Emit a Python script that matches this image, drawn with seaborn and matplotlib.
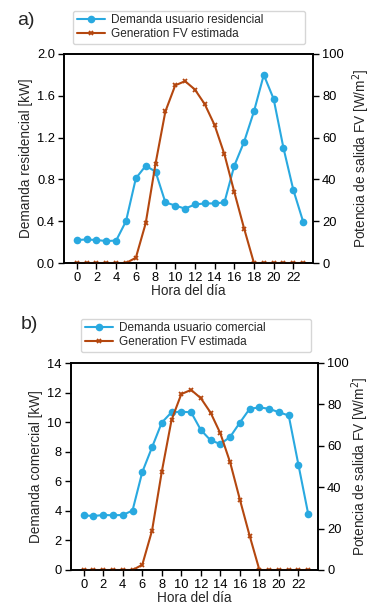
import numpy as np
import pandas as pd
import matplotlib
matplotlib.use("Agg")
import matplotlib.pyplot as plt
import seaborn as sns

hours = list(range(24))
res_demand = [0.22, 0.225, 0.22, 0.21, 0.215, 0.40, 0.81, 0.93, 0.875, 0.58, 0.55, 0.52,
              0.56, 0.57, 0.57, 0.58, 0.93, 1.16, 1.45, 1.80, 1.57, 1.10, 0.70, 0.395]
com_demand = [3.70, 3.65, 3.72, 3.70, 3.72, 4.02, 6.62, 8.30, 9.97, 10.67, 10.70, 10.67,
              9.47, 8.77, 8.52, 9.00, 9.97, 10.90, 11.00, 10.90, 10.67, 10.45, 7.10, 3.78]
pv_gen = [0, 0, 0, 0, 0, 0, 2.5, 19, 47.5, 72.5, 85, 87,
          83, 76, 66, 52, 34, 16.5, 0, 0, 0, 0, 0, 0]
xticks = list(range(0, 24, 2))

blue = "#29a9e0"
brown = "#b4470f"

sns.set_theme(style="ticks")
plt.rcParams["font.family"] = ["Liberation Sans", "DejaVu Sans"]

W, H = 371, 606
fig = plt.figure(figsize=(W / 100, H / 100), dpi=100)

panels = [
    dict(demand=res_demand, label="Demanda usuario residencial", ylabel="Demanda residencial [kW]",
         ylim=(0, 2.0), yticks=[0, 0.4, 0.8, 1.2, 1.6, 2.0], fmt="%.1f",
         rect=[64 / W, 1 - 263 / H, 249 / W, 209 / H], tag="a)", tagpos=(17 / W, 1 - 12 / H),
         leg=(73 / W, 1 - 44 / H, 232 / W, 32 / H), rpad=5),
    dict(demand=com_demand, label="Demanda usuario comercial", ylabel="Demanda comercial [kW]",
         ylim=(0, 14), yticks=list(range(0, 15, 2)), fmt="%d",
         rect=[71 / W, 1 - 570 / H, 247 / W, 207 / H], tag="b)", tagpos=(21 / W, 1 - 316 / H),
         leg=(81 / W, 1 - 352 / H, 230 / W, 34 / H), rpad=0.5),
]

for p in panels:
    ax = fig.add_axes(p["rect"])
    df = pd.DataFrame({"hora": hours, "demanda": p["demand"], "pv": pv_gen})
    sns.lineplot(data=df, x="hora", y="demanda", ax=ax, color=blue, marker="o",
                 markersize=5.5, markeredgewidth=0, linewidth=1.5, label=p["label"], legend=False)
    ax2 = ax.twinx()
    sns.lineplot(data=df, x="hora", y="pv", ax=ax2, color=brown, marker="x",
                 markersize=3.5, markeredgewidth=1.3, markeredgecolor=brown, linestyle="-",
                 linewidth=1.5, label="Generation FV estimada", legend=False)
    ax.set_xlim(-1.3, 24)
    ax.set_ylim(*p["ylim"])
    ax.set_yticks(p["yticks"])
    ax.yaxis.set_major_formatter(matplotlib.ticker.FormatStrFormatter(p["fmt"]))
    ax.set_xticks(xticks)
    ax2.set_ylim(0, 100)
    ax2.set_yticks([0, 20, 40, 60, 80, 100])
    ax.set_xlabel("Hora del día", fontsize=9.8, labelpad=0)
    ax.set_ylabel(p["ylabel"], fontsize=9.8, labelpad=3)
    ax2.set_ylabel("Potencia de salida FV [W/m$^2$]", fontsize=9.8, labelpad=p["rpad"])
    for a in (ax, ax2):
        a.tick_params(labelsize=9.3, length=4.5, width=1, colors="black", pad=2)
        for s in a.spines.values():
            s.set_linewidth(1.2)
            s.set_color("black")
    h1, l1 = ax.get_legend_handles_labels()
    h2, l2 = ax2.get_legend_handles_labels()
    fig.legend(h1 + h2, l1 + l2, loc="lower left", bbox_to_anchor=p["leg"], mode="expand",
               fontsize=8.5, frameon=True, borderpad=0.3, labelspacing=0.2, borderaxespad=0,
               handlelength=2.4, handletextpad=0.5, fancybox=True, edgecolor="#cccccc")
    fig.text(*p["tagpos"], p["tag"], fontsize=14, va="top", ha="left")

fig.savefig("out.png", dpi=100)
